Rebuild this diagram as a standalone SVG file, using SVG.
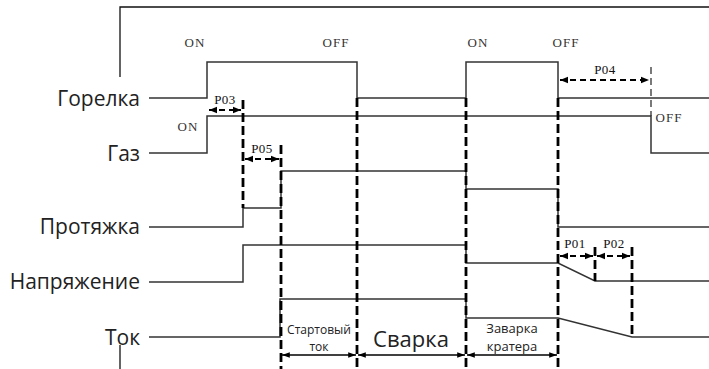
<svg xmlns="http://www.w3.org/2000/svg" width="709" height="369" viewBox="0 0 709 369">
<defs>
<marker id="ah" viewBox="0 0 10 10" refX="10" refY="5" markerWidth="4.5" markerHeight="4" orient="auto-start-reverse" markerUnits="strokeWidth"><path d="M0,1 L10,5 L0,9 z" fill="#000"/></marker>
<marker id="ah2" viewBox="0 0 10 10" refX="10" refY="5" markerWidth="7" markerHeight="6" orient="auto-start-reverse" markerUnits="strokeWidth"><path d="M0,1.5 L10,5 L0,8.5 z" fill="#000"/></marker>
</defs>
<style>
.sig{fill:none;stroke:#333;stroke-width:1.5}
.frame{fill:none;stroke:#111;stroke-width:1.3}
.dv{fill:none;stroke:#000;stroke-width:2.8;stroke-dasharray:9 4}
.dvt{fill:none;stroke:#333;stroke-width:1.3;stroke-dasharray:7 4}
.dim{fill:none;stroke:#000;stroke-width:2;stroke-dasharray:6 4;marker-start:url(#ah);marker-end:url(#ah)}
.bar{fill:none;stroke:#000;stroke-width:1.3;marker-start:url(#ah2);marker-end:url(#ah2)}
.lbl{font-family:"Open Sans","DejaVu Sans",sans-serif;font-size:21px;fill:#222;text-anchor:end}
.st{font-family:"Liberation Serif",serif;font-size:13px;fill:#333;letter-spacing:1px;text-anchor:middle}
.pp{font-family:"Liberation Serif",serif;font-size:13px;fill:#111;letter-spacing:0.5px;text-anchor:middle}
.ph{font-family:"Open Sans","DejaVu Sans",sans-serif;fill:#222;text-anchor:middle}
</style>
<rect width="709" height="369" fill="#fff"/>
<g id="frame">
<path class="frame" d="M120,77 V7 H709"/>
<path class="frame" d="M120,345 V369"/>
</g>
<g id="labels">
<text class="lbl" x="140" y="106">Горелка</text>
<text class="lbl" x="140" y="161">Газ</text>
<text class="lbl" x="140" y="234">Протяжка</text>
<text class="lbl" x="140" y="289">Напряжение</text>
<text class="lbl" x="140" y="345">Ток</text>
</g>
<g id="gorelka">
<path class="sig" d="M149,98 H207 V62 H357 V98 H466 V62 H558 V98 H709"/>
<text class="st" x="195" y="47">ON</text>
<text class="st" x="336" y="47">OFF</text>
<text class="st" x="478" y="47">ON</text>
<text class="st" x="566" y="47">OFF</text>
</g>
<g id="gaz">
<path class="sig" d="M149,153 H207 V116 H651 V153 H709"/>
<text class="st" x="188" y="131">ON</text>
<text class="st" x="669" y="122">OFF</text>
</g>
<g id="protyazhka">
<path class="sig" d="M149,227 H243 V208 H281 V171 H466 V189 H558 V227 H709"/>
</g>
<g id="napryazhenie">
<path class="sig" d="M149,282 H243 V245 H466 V263 H558 L595,281 H709"/>
</g>
<g id="tok">
<path class="sig" d="M149,337 H280 V299 H466 V318 H558 L632,337 H709"/>
</g>
<g id="connectors">
<path class="dv" d="M243,100 V208"/>
<path class="dv" d="M281,145 V369"/>
<path class="dv" d="M357,98 V369"/>
<path class="dv" d="M466,98 V369"/>
<path class="dv" d="M558,98 V369"/>
<path class="dv" d="M595,247 V281"/>
<path class="dv" d="M632,247 V337"/>
<path class="dvt" d="M651,67 V116"/>
<path class="dim" d="M209,110 H241"/>
<path class="dim" d="M245,159 H279"/>
<path class="dim" d="M560,80 H649"/>
<path class="dim" d="M560,256 H593"/>
<path class="dim" d="M597,256 H630"/>
<path class="bar" d="M282,355 H356"/>
<path class="bar" d="M358,355 H465"/>
<path class="bar" d="M467,355 H557"/>
</g>
<g id="params">
<text class="pp" x="225" y="104">P03</text>
<text class="pp" x="262" y="153">P05</text>
<text class="pp" x="605" y="74">P04</text>
<text class="pp" x="575" y="248">P01</text>
<text class="pp" x="614" y="248">P02</text>
</g>
<g id="phases">
<text class="ph" x="319" y="334" font-size="12">Стартовый</text>
<text class="ph" x="319" y="351" font-size="12">ток</text>
<text class="ph" x="411" y="347" font-size="22">Сварка</text>
<text class="ph" x="512" y="333" font-size="13">Заварка</text>
<text class="ph" x="512" y="351" font-size="13">кратера</text>
</g>
</svg>
